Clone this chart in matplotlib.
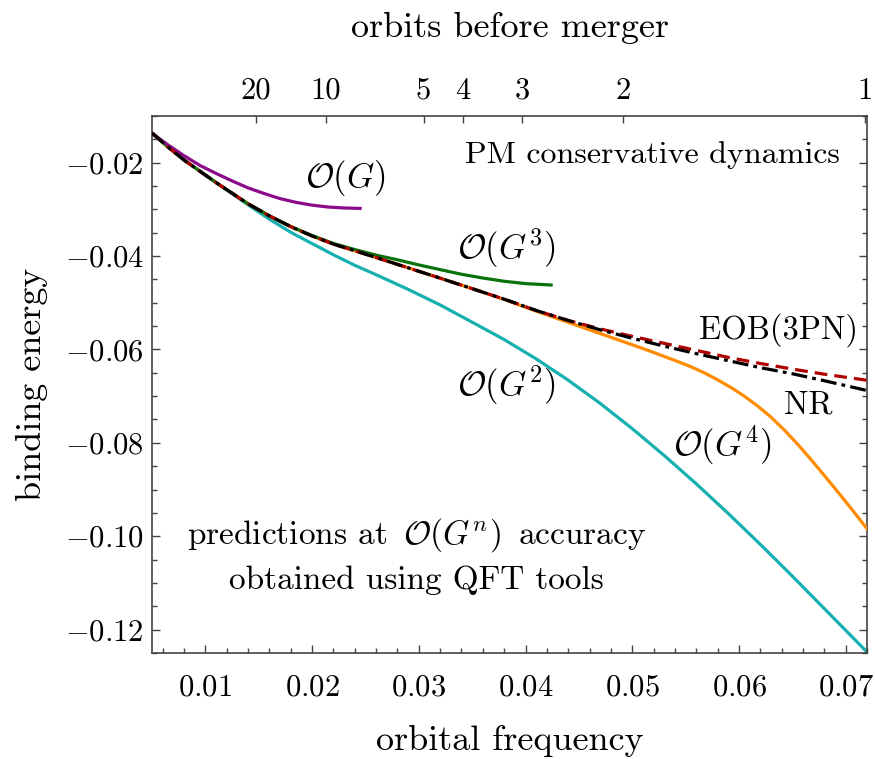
import numpy as np
import matplotlib
matplotlib.use("Agg")
import matplotlib.pyplot as plt
from matplotlib.ticker import MultipleLocator

plt.rcParams["font.family"] = "serif"
plt.rcParams["font.serif"] = ["cmr10"]
plt.rcParams["mathtext.fontset"] = "cm"
plt.rcParams["axes.formatter.use_mathtext"] = True

# shared frequency grid (M*omega)
freq = [0.005, 0.0065, 0.008, 0.0095, 0.011, 0.0125, 0.014, 0.016, 0.018,
        0.020, 0.022, 0.024, 0.026, 0.029, 0.032, 0.035, 0.038, 0.041,
        0.044, 0.047, 0.050, 0.053, 0.056, 0.059, 0.062, 0.065, 0.068, 0.072]

# numerical relativity and EOB(3PN) binding energies
nr = [-0.01364, -0.01665, -0.01943, -0.02185, -0.02426, -0.02653, -0.0288,
      -0.03139, -0.03369, -0.0357, -0.03744, -0.03887, -0.04031, -0.04252,
      -0.04473, -0.04698, -0.04923, -0.05165, -0.05379, -0.0558, -0.0576,
      -0.0593, -0.0609, -0.0624, -0.0639, -0.0652, -0.0667, -0.0688]
eob = [-0.01364, -0.01665, -0.01943, -0.02185, -0.02426, -0.02653, -0.0288,
       -0.03139, -0.03369, -0.0357, -0.03744, -0.03887, -0.04031, -0.04252,
       -0.04473, -0.04698, -0.04923, -0.05165, -0.05379, -0.0556, -0.0572,
       -0.0587, -0.0602, -0.0617, -0.0630, -0.0642, -0.0653, -0.0666]

# O(G^2)
g2 = [-0.01364, -0.01652, -0.01939, -0.02181, -0.02424, -0.02663, -0.02904,
      -0.0321, -0.03491, -0.03733, -0.03973, -0.04198, -0.0440, -0.04713,
      -0.05047, -0.05416, -0.05788, -0.06202, -0.06658, -0.07156, -0.07696,
      -0.08272, -0.08878, -0.09514, -0.10174, -0.10855, -0.11551, -0.1248]

# O(G^4), finer steps where it bends away
freq_g4 = [0.005, 0.0065, 0.008, 0.0095, 0.011, 0.0125, 0.014, 0.016, 0.018,
           0.020, 0.022, 0.024, 0.026, 0.029, 0.032, 0.035, 0.038, 0.041,
           0.044, 0.047, 0.050, 0.0515, 0.053, 0.05425, 0.0555, 0.05675,
           0.058, 0.05925, 0.0605, 0.06175, 0.063, 0.06425, 0.0655, 0.06675,
           0.068, 0.069, 0.070, 0.071, 0.072]
g4 = [-0.01364, -0.01665, -0.01943, -0.02185, -0.02426, -0.02653, -0.0288,
      -0.03139, -0.03369, -0.0357, -0.03744, -0.03887, -0.04031, -0.04252,
      -0.04473, -0.04698, -0.0493, -0.0518, -0.0542, -0.0566, -0.0590,
      -0.06022, -0.0615, -0.06258, -0.0637, -0.06501, -0.0665, -0.06814,
      -0.0700, -0.07211, -0.0745, -0.07726, -0.0803, -0.08358, -0.0870,
      -0.08977, -0.0926, -0.09548, -0.0984]

# O(G)
freq_g1 = [0.005, 0.0065, 0.008, 0.0095, 0.011, 0.0125, 0.014, 0.0155,
           0.017, 0.0185, 0.020, 0.0215, 0.023, 0.0245]
g1 = [-0.0137, -0.0162, -0.0185, -0.0206, -0.0223, -0.0239, -0.0254,
      -0.0266, -0.0277, -0.0285, -0.0291, -0.0295, -0.0297, -0.0298]

# O(G^3)
freq_g3 = [0.005, 0.0065, 0.008, 0.0095, 0.011, 0.0125, 0.014, 0.016, 0.018,
           0.020, 0.022, 0.024, 0.026, 0.028, 0.030, 0.032, 0.034, 0.036,
           0.038, 0.040, 0.0424]
g3 = [-0.01364, -0.01665, -0.01943, -0.02185, -0.02426, -0.02653, -0.0288,
      -0.03139, -0.03369, -0.0356, -0.0373, -0.0386, -0.0398, -0.0408,
      -0.0419, -0.0429, -0.0439, -0.0447, -0.0454, -0.0459, -0.0462]

# top axis: number of orbits left before merger
orbit_freq = [0.01473, 0.02128, 0.03045, 0.03413, 0.03969, 0.04917, 0.0718]
orbit_labels = ["20", "10", "5", "4", "3", "2", "1"]

fig = plt.figure(figsize=(8.75, 7.59), dpi=100)
ax = fig.add_axes([0.1737, 0.1397, 0.8172, 0.7075])

lw = 2.3
ax.plot(freq, g2, color="#17b0b0", lw=lw, zorder=2)
ax.plot(freq_g4, g4, color="#ff8c00", lw=lw, zorder=3)
ax.plot(freq_g3, g3, color="#0a720a", lw=lw, zorder=3)
ax.plot(freq_g1, g1, color="#8a0a8a", lw=lw, zorder=3)
ax.plot(freq, eob, color="#b00000", lw=lw, ls=(0, (4, 2.2)), zorder=4)
ax.plot(freq, nr, color="black", lw=lw, ls=(0, (5, 1.6, 1.2, 1.6)), zorder=5)

ax.set_xlim(0.005, 0.072)
ax.set_ylim(-0.125, -0.010)
ax.xaxis.set_major_locator(MultipleLocator(0.01))
ax.xaxis.set_minor_locator(MultipleLocator(0.002))
ax.yaxis.set_major_locator(MultipleLocator(0.02))
ax.yaxis.set_minor_locator(MultipleLocator(0.005))
ax.tick_params(which="both", direction="in", right=True, top=False,
               color="#444444", labelsize=22, width=1.0)
ax.tick_params(which="major", length=6)
ax.tick_params(which="minor", length=3.5)
ax.tick_params(axis="x", pad=15)
ax.tick_params(axis="y", pad=6)
for sp in ax.spines.values():
    sp.set_color("#444444")
    sp.set_linewidth(1.2)

ax.set_xlabel("orbital frequency", fontsize=26, labelpad=17)
ax.set_ylabel("binding energy", fontsize=26, labelpad=12)

top = ax.twiny()
top.set_xlim(ax.get_xlim())
top.set_xticks(orbit_freq)
top.set_xticklabels(orbit_labels)
top.tick_params(direction="in", length=5, color="#444444", labelsize=22,
                pad=8, width=1.0)
top.set_xlabel("orbits before merger", fontsize=26, labelpad=29)
for sp in top.spines.values():
    sp.set_visible(False)

ax.text(0.70, 0.927, "PM conservative dynamics", transform=ax.transAxes,
        fontsize=23, ha="center", va="center")
ax.text(0.27, 0.8845, r"$\mathcal{O}(G)$", transform=ax.transAxes,
        fontsize=25, ha="center", va="center")
ax.text(0.4965, 0.754, r"$\mathcal{O}(G^3)$", transform=ax.transAxes,
        fontsize=25, ha="center", va="center")
ax.text(0.4965, 0.499, r"$\mathcal{O}(G^2)$", transform=ax.transAxes,
        fontsize=25, ha="center", va="center")
ax.text(0.7986, 0.3873, r"$\mathcal{O}(G^4)$", transform=ax.transAxes,
        fontsize=25, ha="center", va="center")
ax.text(0.8755, 0.6015, "EOB(3PN)", transform=ax.transAxes,
        fontsize=23.5, ha="center", va="center")
ax.text(0.9175, 0.4618, "NR", transform=ax.transAxes,
        fontsize=23.5, ha="center", va="center")
ax.text(0.37, 0.2197, r"predictions at $\,\mathcal{O}(G^n)\,$ accuracy",
        transform=ax.transAxes, fontsize=24, ha="center", va="center")
ax.text(0.37, 0.136, "obtained using QFT tools", transform=ax.transAxes,
        fontsize=24, ha="center", va="center")

fig.savefig("out.png", dpi=100)
